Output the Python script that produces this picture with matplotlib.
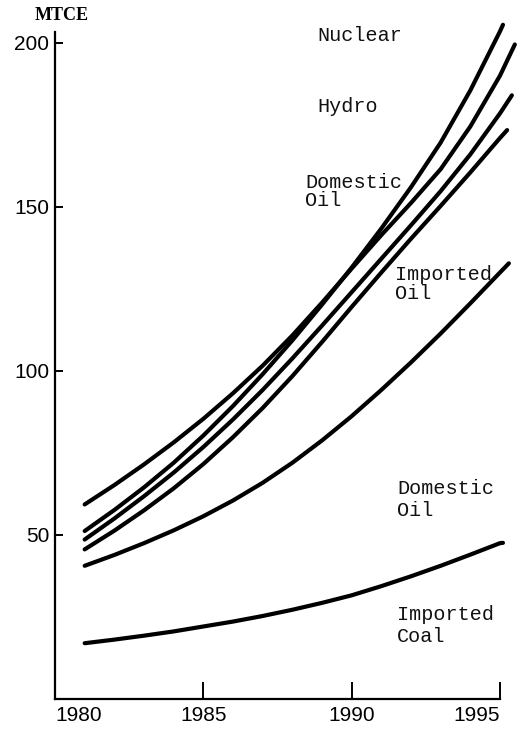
import matplotlib.pyplot as plt

# years (last entry = where each hand-drawn line stops)
yrs = [1981, 1982, 1983, 1984, 1985, 1986, 1987, 1988, 1989, 1990,
       1991, 1992, 1993, 1994, 1995]

# imported coal (lowest line)
coal = [17.0, 18.1, 19.3, 20.6, 22.1, 23.6, 25.3, 27.2, 29.3, 31.6,
        34.4, 37.4, 40.6, 44.0, 47.5]
coal_end = (1995.1, 47.6)

# domestic oil
dom_oil = [40.6, 43.9, 47.5, 51.4, 55.7, 60.5, 65.9, 72.0, 78.8, 86.2,
           94.2, 102.6, 111.4, 120.6, 130.0]
dom_oil_end = (1995.3, 132.8)

# upper bundle of four lines
line_d = [45.6, 51.3, 57.5, 64.2, 71.6, 79.8, 88.7, 98.4, 108.8, 119.5,
          130.0, 140.3, 150.3, 160.5, 171.0]
line_d_end = (1995.24, 173.4)

line_c = [48.6, 55.0, 61.8, 69.0, 76.8, 85.2, 94.2, 103.8, 113.8, 124.0,
          134.2, 144.4, 154.8, 166.0, 178.5]
line_c_end = (1995.4, 184.0)

line_b = [51.2, 57.6, 64.5, 72.0, 80.3, 89.3, 99.0, 109.3, 120.2, 131.5,
          143.4, 156.0, 169.6, 185.5, 203.5]
line_b_end = (1995.1, 205.5)

line_a = [59.3, 65.2, 71.5, 78.2, 85.4, 93.2, 101.6, 110.8, 120.8, 131.2,
          141.4, 151.2, 161.5, 174.5, 190.0]
line_a_end = (1995.5, 199.5)

curves = [(coal, coal_end), (dom_oil, dom_oil_end), (line_d, line_d_end),
          (line_c, line_c_end), (line_b, line_b_end), (line_a, line_a_end)]

# band labels (text, year, value, line spacing)
labels = [("Nuclear", 1988.85, 202.1, 1.0),
          ("Hydro", 1988.85, 180.5, 1.0),
          ("Domestic\nOil", 1988.44, 154.7, 0.95),
          ("Imported\nOil", 1991.47, 126.5, 1.05),
          ("Domestic\nOil", 1991.54, 60.8, 1.2),
          ("Imported\nCoal", 1991.54, 22.4, 1.2)]

xticks = [1980, 1985, 1990, 1995]
yticks = [50, 100, 150, 200]

mono = "Liberation Mono"

fig = plt.figure(figsize=(5.27, 7.32), dpi=100)
ax = fig.add_axes([55/527, 33/732, 445/527, 667/732])

for vals, end in curves:
    xs = yrs + [end[0]]
    ys = vals + [end[1]]
    ax.plot(xs, ys, color="black", lw=3, solid_capstyle="round",
            solid_joinstyle="round", clip_on=False)

for txt, x, y, ls in labels:
    ax.text(x, y, txt, family=mono, fontsize=14.5, ha="left", va="center",
            linespacing=ls, color="#111111")

ax.set_xlim(1980, 1995)
ax.set_ylim(0, 203.3)
ax.spines["top"].set_visible(False)
ax.spines["right"].set_visible(False)
ax.spines["left"].set_linewidth(1.6)
ax.spines["bottom"].set_linewidth(1.6)

ax.set_xticks(xticks)
ax.set_xticklabels([str(t) for t in xticks], family="Liberation Sans", fontsize=15)
ax.set_yticks(yticks)
ax.set_yticklabels([str(t) for t in yticks], family="Liberation Sans", fontsize=15)
ax.tick_params(axis="x", direction="in", length=12, width=1.4, pad=5)
ax.tick_params(axis="y", direction="in", length=6, width=1.4, pad=4)
xl = ax.get_xticklabels()
xl[0].set_ha("left")
xl[-1].set_ha("right")

fig.text(62/527, 1 - 15/732, "MTCE", family="Liberation Serif",
         fontweight="bold", fontsize=13, ha="center", va="center")

fig.savefig("out.png", dpi=100)
